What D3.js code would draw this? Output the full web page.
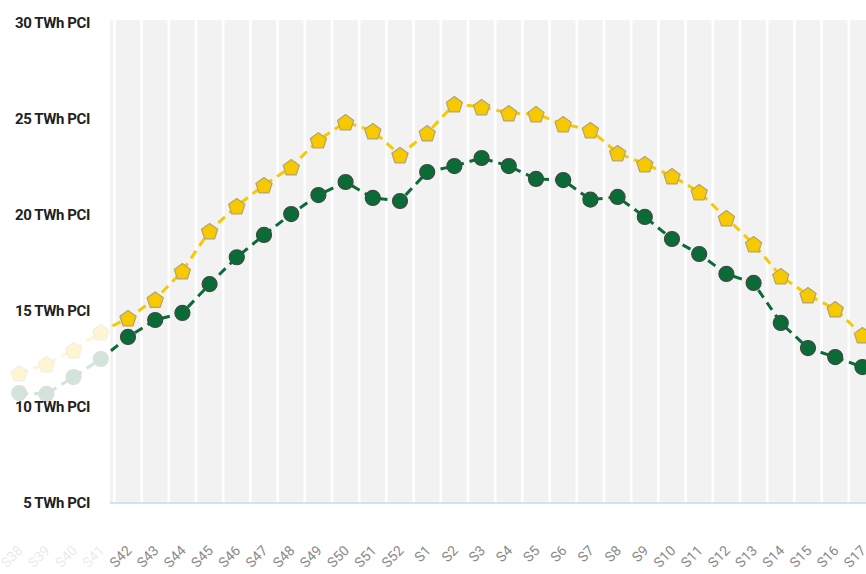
<!DOCTYPE html>
<html><head><meta charset="utf-8">
<script src="https://cdn.jsdelivr.net/npm/d3@7/dist/d3.min.js"></script>
<style>body{margin:0;background:#fff}svg{display:block}</style>
</head><body>
<svg id="c" width="866" height="574"></svg>
<script>
const weeks = ["S38","S39","S40","S41","S42","S43","S44","S45","S46","S47","S48","S49","S50","S51","S52",
  "S1","S2","S3","S4","S5","S6","S7","S8","S9","S10","S11","S12","S13","S14","S15","S16","S17"];
const yellowSeries = [11.77,12.24,12.97,13.9,14.64,15.6,17.08,19.17,20.47,21.56,22.5,23.9,24.84,24.38,23.13,
  24.27,25.78,25.63,25.31,25.26,24.74,24.43,23.23,22.66,22.03,21.2,19.84,18.49,16.82,15.83,15.1,13.75];
const greenSeries = [10.73,10.68,11.56,12.5,13.65,14.53,14.9,16.4,17.8,18.96,20.05,21.04,21.72,20.89,20.73,
  22.24,22.55,22.97,22.55,21.88,21.82,20.8,20.94,19.9,18.75,17.97,16.93,16.46,14.38,13.07,12.6,12.08];
const yTicks = [5,10,15,20,25,30];
const yTickLabels = ["5 TWh PCI","10 TWh PCI","15 TWh PCI","20 TWh PCI","25 TWh PCI","30 TWh PCI"];

const svg = d3.select("#c");
const W = 866, H = 574;
const plotLeft = 110, plotRight = 866;
const x = d3.scaleBand().domain(weeks).range([5.6, 876]).paddingInner(0.1).paddingOuter(0.05);
const cx = d => x(d) + x.bandwidth()/2;
const y = d3.scaleLinear().domain([5, 30]).range([503, 23]);

svg.append("clipPath").attr("id","plotclip").append("rect")
  .attr("x", plotLeft).attr("y", 0).attr("width", plotRight - plotLeft).attr("height", H);

// background columns
svg.append("g").attr("clip-path","url(#plotclip)")
  .selectAll("rect").data(weeks).join("rect")
  .attr("x", d => x(d)).attr("width", x.bandwidth())
  .attr("y", 20).attr("height", y(5) - 20)
  .attr("fill", "#f2f2f2");

// baseline
svg.append("line").attr("x1", plotLeft).attr("x2", plotRight)
  .attr("y1", y(5)).attr("y2", y(5)).attr("stroke", "#c9d8e8").attr("stroke-width", 1.5);

// x labels
svg.append("g").selectAll("text").data(weeks).join("text")
  .attr("transform", d => `translate(${cx(d)+1},${548}) rotate(-45)`)
  .attr("text-anchor", "end").attr("dy", "0.35em")
  .attr("font-family", "Roboto, 'DejaVu Sans', sans-serif").attr("font-size", 14)
  .attr("fill", "#8a8a8a").text(d => d);

const line = d3.line().x((d,i) => cx(weeks[i])).y(d => y(d));

function drawSeries(vals, color, strokeCol, shape){
  svg.append("path").datum(vals).attr("d", line)
    .attr("fill","none").attr("stroke", color).attr("stroke-width", 3)
    .attr("stroke-dasharray", "9,6");
  const g = svg.append("g");
  vals.forEach((v,i) => {
    const px = cx(weeks[i]), py = y(v);
    if (shape === "pent") {
      const r = 8.5;
      const pts = d3.range(5).map(k => {
        const a = -Math.PI/2 + k*2*Math.PI/5;
        return [px + r*Math.cos(a), py + r*Math.sin(a) + 1];
      });
      g.append("polygon").attr("points", pts.map(p => p.join(",")).join(" "))
        .attr("fill", color).attr("stroke", strokeCol).attr("stroke-width", 1.2)
        .attr("stroke-linejoin","round");
    } else {
      g.append("circle").attr("cx", px).attr("cy", py).attr("r", 7.5)
        .attr("fill", color).attr("stroke", strokeCol).attr("stroke-width", 1.2);
    }
  });
}
drawSeries(yellowSeries, "#f6c900", "#b5a36a", "pent");
drawSeries(greenSeries, "#0a6b36", "#3d4a40", "circle");

// white fade overlay on the left
svg.append("rect").attr("x", 0).attr("y", 0).attr("width", plotLeft).attr("height", H)
  .attr("fill", "#fff").attr("opacity", 0.82);

// y labels
svg.append("g").selectAll("text").data(yTicks).join("text")
  .attr("x", 90).attr("y", d => y(d)).attr("dy", "0.36em")
  .attr("text-anchor", "end")
  .attr("font-family", "Roboto, 'DejaVu Sans', sans-serif").attr("font-weight", 700)
  .attr("font-size", 15).attr("letter-spacing", "-0.4px")
  .attr("fill", "#222").text((d,i) => yTickLabels[i]);
</script>
</body></html>
